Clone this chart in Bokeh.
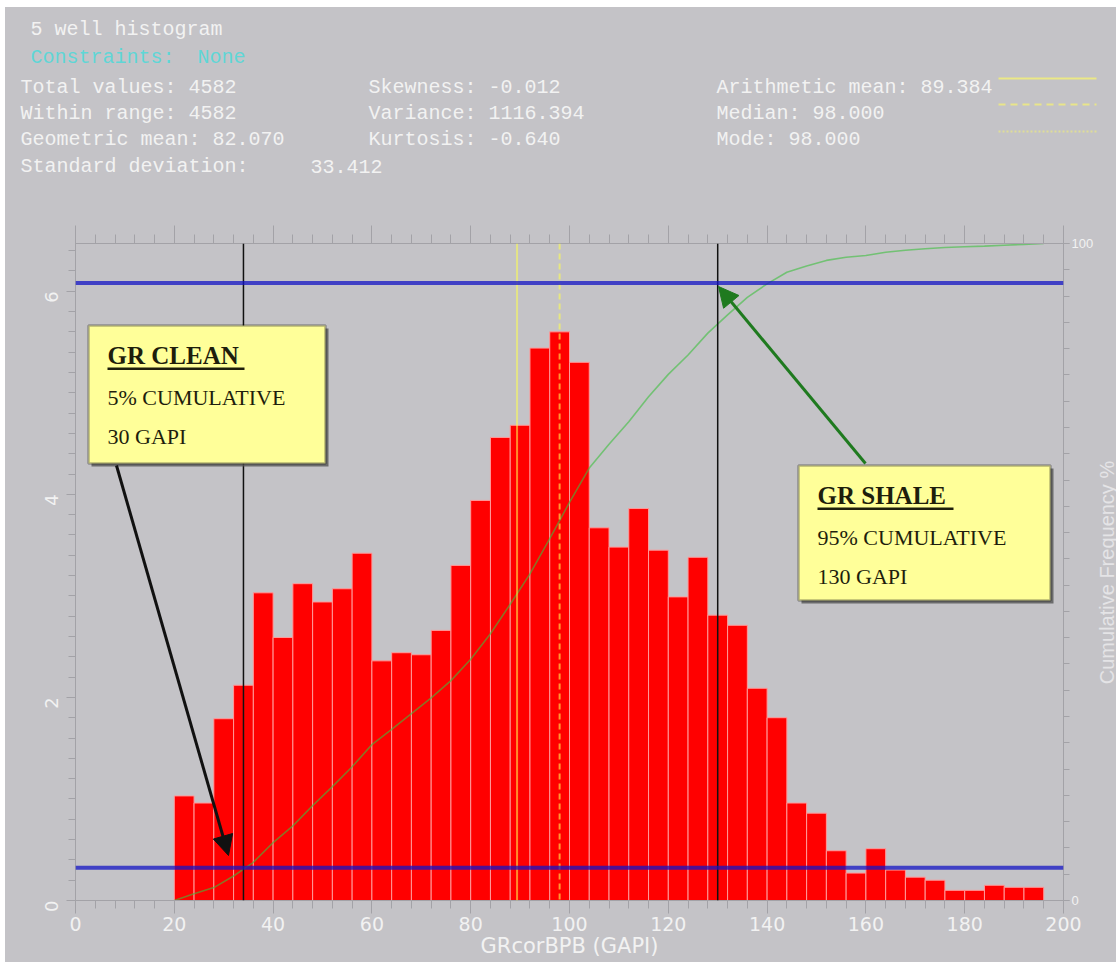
import numpy as np
from bokeh.plotting import figure
from bokeh.layouts import column, row
from bokeh.models import (Range1d, LinearAxis, SingleIntervalTicker, FixedTicker, Span,
                          Label, BoxAnnotation, Arrow, NormalHead, Spacer)
from bokeh.core.properties import value
from bokeh.embed import file_html
from bokeh.resources import INLINE

# ---------------- data ----------------
bin_left = [20, 24, 28, 32, 36, 40, 44, 48, 52, 56, 60, 64, 68, 72, 76, 80, 84, 88, 92, 96,
            100, 104, 108, 112, 116, 120, 124, 128, 132, 136, 140, 144, 148, 152, 156, 160,
            164, 168, 172, 176, 180, 184, 188, 192]
bin_width = 4
freq_pct = [1.03, 0.96, 1.79, 2.12, 3.03, 2.59, 3.12, 2.94, 3.07, 3.42,
            2.36, 2.44, 2.42, 2.66, 3.30, 3.94, 4.56, 4.68, 5.44, 5.60,
            5.30, 3.67, 3.48, 3.86, 3.45, 2.99, 3.38, 2.81, 2.71, 2.09,
            1.80, 0.96, 0.86, 0.49, 0.27, 0.51, 0.30, 0.23, 0.20, 0.10,
            0.10, 0.15, 0.13, 0.13]

arith_mean = 89.384
median = 98.0
clean_gapi = 34
shale_gapi = 130
cutoff_pct = [5, 94]

header_title = "5 well histogram"
constraints = ["Constraints:", "None"]
stats_col1 = ["Total values: 4582", "Within range: 4582", "Geometric mean: 82.070", "Standard deviation:"]
stats_col1_extra = "33.412"
stats_col2 = ["Skewness: -0.012", "Variance: 1116.394", "Kurtosis: -0.640"]
stats_col3 = ["Arithmetic mean: 89.384", "Median: 98.000", "Mode: 98.000"]
box_clean = ["GR CLEAN", "5% CUMULATIVE", "30 GAPI"]
box_shale = ["GR SHALE", "95% CUMULATIVE", "130 GAPI"]
x_title = "GRcorBPB (GAPI)"
y2_title = "Cumulative Frequency %"

# derived
bin_right = [b + bin_width for b in bin_left]
cum_x = [bin_left[0]] + bin_right
cum_y = [0.0] + list(np.cumsum(freq_pct) / np.sum(freq_pct) * 100.0)

# ---------------- layout constants (page pixels) ----------------
BG = "#c4c3c7"
TXT = "#f2f2f2"
PAGE_W, PAGE_H = 1116, 962
OFF_X, OFF_Y = 5, 7              # white strip on the left / top
HDR_H = 193
SIDE_X = 1096                     # start of the strip holding the right-hand title
FIG_W = PAGE_W - OFF_X
MAIN_W = SIDE_X - OFF_X
SIDE_W = PAGE_W - SIDE_X
MAIN_H = PAGE_H - OFF_Y - HDR_H
FL, FR, FT, FB = 75, 1063, 243, 900
ML = FL - OFF_X
MR = SIDE_X - FR
MT = FT - OFF_Y - HDR_H
MB = PAGE_H - FB
XMAX, YMAX = 200.0, 6.47
PX_X = (FR - FL) / XMAX
PX_Y = (FB - FT) / YMAX


def sx(X):
    return X - FL


def sy(Y):
    return FB - Y


def dx(X):
    return (X - FL) / PX_X


def dy(Y):
    return (FB - Y) / PX_Y


# ---------------- header ----------------
hdr = figure(width=FIG_W, height=HDR_H, output_backend="svg", toolbar_location=None,
             x_range=Range1d(OFF_X, PAGE_W), y_range=Range1d(OFF_Y + HDR_H, OFF_Y),
             x_axis_type=None, y_axis_type=None, min_border=0, frame_align=False,
             background_fill_color=BG, border_fill_color=BG, outline_line_color=None,
             styles={"background-color": BG})
hdr.grid.visible = False

MONO = value("Liberation Mono")
HS = "20px"
rows_y = [87, 113, 139, 166]
hdr.text(x=[30], y=[29], text=[header_title], text_font=MONO, text_font_size=HS,
         text_color=TXT, text_baseline="middle")
hdr.text(x=[30, 197], y=[57, 57], text=constraints, text_font=MONO, text_font_size=HS,
         text_color="#5fd6d6", text_baseline="middle")
hdr.text(x=[20] * len(stats_col1), y=rows_y[:len(stats_col1)], text=stats_col1, text_font=MONO,
         text_font_size=HS, text_color=TXT, text_baseline="middle")
hdr.text(x=[310], y=[rows_y[3]], text=[stats_col1_extra], text_font=MONO,
         text_font_size=HS, text_color=TXT, text_baseline="middle")
hdr.text(x=[368] * len(stats_col2), y=rows_y[:len(stats_col2)], text=stats_col2, text_font=MONO,
         text_font_size=HS, text_color=TXT, text_baseline="middle")
hdr.text(x=[716] * len(stats_col3), y=rows_y[:len(stats_col3)], text=stats_col3, text_font=MONO,
         text_font_size=HS, text_color=TXT, text_baseline="middle")
for yy, dash, alpha in [(78, "solid", 0.85), (104, "7 5", 0.8), (131, "2 2", 0.6)]:
    hdr.line(x=[998, 1096], y=[yy, yy], line_color="#f2ee7a", line_alpha=alpha,
             line_width=2, line_dash=dash)

# ---------------- right-hand title strip ----------------
side = figure(width=SIDE_W, height=MAIN_H, output_backend="svg", toolbar_location=None,
              x_range=Range1d(SIDE_X, PAGE_W), y_range=Range1d(PAGE_H, PAGE_H - MAIN_H),
              x_axis_type=None, y_axis_type=None, min_border=0, frame_align=False,
              background_fill_color=BG, border_fill_color=BG, outline_line_color=None,
              styles={"background-color": BG})
side.grid.visible = False
side.text(x=[1106], y=[572], text=[y2_title], angle=np.pi / 2,
          text_font=value("Liberation Sans"), text_font_size="20px", text_color="#e4e4e6",
          text_align="center", text_baseline="middle")

# ---------------- main plot ----------------
p = figure(width=MAIN_W, height=MAIN_H, output_backend="svg", toolbar_location=None,
           x_range=Range1d(0, XMAX), y_range=Range1d(0, YMAX), frame_align=False,
           min_border_left=ML, min_border_right=MR, min_border_top=MT, min_border_bottom=MB,
           background_fill_color=BG, border_fill_color=BG, outline_line_color="#a6a5aa",
           styles={"background-color": BG})
p.grid.visible = False
p.extra_y_ranges = {"cum": Range1d(0, 100)}

TICK = "#a3a2a7"
xa = p.xaxis[0]
xa.ticker = SingleIntervalTicker(interval=20, num_minor_ticks=5)
xa.axis_line_color = TICK
xa.major_tick_line_color = TICK
xa.minor_tick_line_color = TICK
xa.major_tick_in = 0
xa.major_tick_out = 13
xa.minor_tick_in = 0
xa.minor_tick_out = 8
xa.major_label_standoff = 3
xa.major_label_text_color = TXT
xa.major_label_text_font = "DejaVu Sans"
xa.major_label_text_font_size = "19px"
xa.axis_label = x_title
xa.axis_label_standoff = 0
xa.axis_label_text_color = TXT
xa.axis_label_text_font = "DejaVu Sans"
xa.axis_label_text_font_size = "21px"
xa.axis_label_text_font_style = "normal"

ta = LinearAxis(ticker=SingleIntervalTicker(interval=20, num_minor_ticks=5),
                axis_line_color=TICK, major_tick_line_color=TICK, minor_tick_line_color=TICK,
                major_tick_in=0, major_tick_out=18, minor_tick_in=0, minor_tick_out=9,
                major_label_text_color=None, major_label_standoff=0)
p.add_layout(ta, "above")

ya = p.yaxis[0]
ya.ticker = SingleIntervalTicker(interval=2, num_minor_ticks=10)
ya.axis_line_color = TICK
ya.major_tick_line_color = TICK
ya.minor_tick_line_color = TICK
ya.major_tick_in = 0
ya.major_tick_out = 9
ya.minor_tick_in = 0
ya.minor_tick_out = 7
ya.major_label_orientation = np.pi / 2
ya.major_label_standoff = 15
ya.major_label_text_color = TXT
ya.major_label_text_font = "DejaVu Sans"
ya.major_label_text_font_size = "18px"

ra = LinearAxis(y_range_name="cum",
                ticker=FixedTicker(ticks=[0, 100], minor_ticks=list(range(0, 101, 4))),
                axis_line_color=TICK, major_tick_line_color=TICK, minor_tick_line_color=TICK,
                major_tick_in=0, major_tick_out=6, minor_tick_in=0, minor_tick_out=6,
                major_label_standoff=2, major_label_text_color=TXT,
                major_label_text_font="Liberation Sans", major_label_text_font_size="13px")
p.add_layout(ra, "right")

# bars
p.quad(left=bin_left, right=bin_right, top=freq_pct, bottom=0,
       fill_color="#ff0000", line_color="#ff9a9a", line_width=1)

# cumulative curve
p.line(cum_x, cum_y, y_range_name="cum", line_color="#3cbf3c", line_alpha=0.6, line_width=1.6)

# reference lines
p.add_layout(Span(location=arith_mean, dimension="height", line_color="#ffff50",
                  line_alpha=0.55, line_width=2))
p.add_layout(Span(location=median, dimension="height", line_color="#ffff50",
                  line_alpha=0.6, line_width=2, line_dash="6 4"))
p.add_layout(Span(location=clean_gapi, dimension="height", line_color="#111111", line_width=1.5))
p.add_layout(Span(location=shale_gapi, dimension="height", line_color="#111111", line_width=1.5))
for c in cutoff_pct:
    p.add_layout(Span(location=c, dimension="width", y_range_name="cum",
                      line_color="#1414c4", line_alpha=0.75, line_width=4))


def flabel(X, Y, text, color, size, font, **kw):
    p.add_layout(Label(x=sx(X), y=sy(Y), x_units="screen", y_units="screen", text=text,
                       text_color=color, text_font=font, text_font_size=size,
                       text_baseline="middle", **kw))


# annotation boxes
INK = "#1e1e0c"


def box(X0, X1, Y0, Y1, lines, title_w):
    p.add_layout(BoxAnnotation(left=dx(X0 + 3), right=dx(X1 + 3), top=dy(Y0 + 3), bottom=dy(Y1 + 3),
                               fill_color="#555555", fill_alpha=0.8, line_color=None))
    p.add_layout(BoxAnnotation(left=dx(X0), right=dx(X1), top=dy(Y0), bottom=dy(Y1),
                               fill_color="#ffff99", fill_alpha=1.0, line_color="#111111",
                               line_width=2.5))
    tx = X0 + 19
    flabel(tx, Y0 + 30, lines[0], INK, "25px", "Liberation Serif", text_font_style="bold")
    p.add_layout(BoxAnnotation(left=dx(tx), right=dx(tx + title_w), top=dy(Y0 + 42),
                               bottom=dy(Y0 + 44.5), fill_color=INK, fill_alpha=1.0,
                               line_color=None))
    flabel(tx, Y0 + 72, lines[1], INK, "22px", "Liberation Serif")
    flabel(tx, Y0 + 111, lines[2], INK, "22px", "Liberation Serif")


box(88, 325, 325, 463, box_clean, 137)
box(798, 1050, 465, 600, box_shale, 136)

# arrows
p.add_layout(Arrow(end=NormalHead(size=20, fill_color="#111111", line_color="#111111"),
                   x_start=sx(116), y_start=sy(465), x_end=sx(228), y_end=sy(855),
                   start_units="screen", end_units="screen",
                   line_color="#111111", line_width=3))
p.add_layout(Arrow(end=NormalHead(size=20, fill_color="#1f7a1f", line_color="#1f7a1f"),
                   x_start=sx(865), y_start=sy(463), x_end=sx(718), y_end=sy(286),
                   start_units="screen", end_units="screen",
                   line_color="#1f7a1f", line_width=3))

layout = row(Spacer(width=OFF_X, height=PAGE_H),
             column(Spacer(width=FIG_W, height=OFF_Y), hdr, row(p, side)))

open("out.html", "w").write(file_html(layout, INLINE))
